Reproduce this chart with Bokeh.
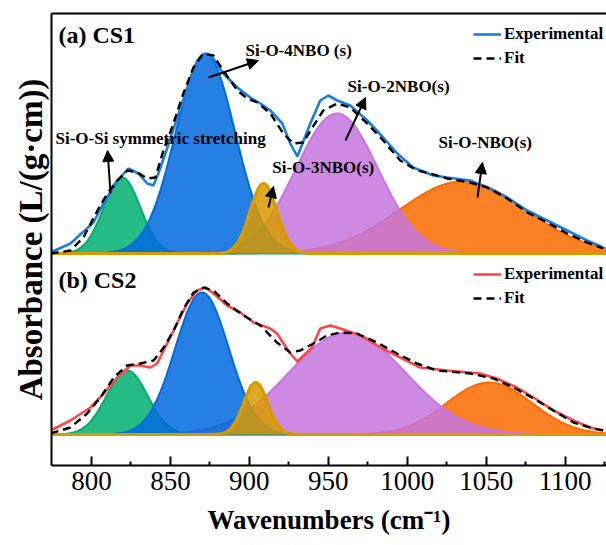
import numpy as np
from bokeh.plotting import figure
from bokeh.models import (Arrow, NormalHead, Label, Legend, LegendItem,
                          LinearAxis, FixedTicker)
from bokeh.embed import file_html
from bokeh.resources import INLINE

# ---------------- data ----------------
# CS1 measured spectrum
cs1_wn = [774.1, 786.7, 801.3, 807.6, 816.5, 823.4, 829.7, 835.4, 839.2, 842.4,
          848.1, 854.4, 860.8, 867.1, 872.2, 877.2, 883.5, 892.4, 900.6, 907.0,
          913.3, 920.9, 925.9, 930.4, 938.6, 944.9, 950.0, 955.7, 963.9, 974.7,
          984.8, 993.7, 1003.8, 1016.5, 1025.3, 1039.9, 1050.6, 1063.3, 1076.0,
          1088.6, 1101.3, 1113.9, 1124.1]
cs1_abs = [0.01, 0.10, 0.31, 0.50, 0.73, 0.85, 0.80, 0.70, 0.68, 0.80,
           1.06, 1.36, 1.66, 1.93, 1.99, 1.95, 1.80, 1.66, 1.56, 1.50,
           1.43, 1.30, 1.10, 0.97, 1.30, 1.53, 1.58, 1.53, 1.48, 1.33,
           1.16, 1.00, 0.86, 0.78, 0.76, 0.73, 0.66, 0.56, 0.43,
           0.33, 0.23, 0.13, 0.06]
# CS1 fitted envelope
cs1_fit_wn = [774.1, 786.7, 794.9, 803.8, 810.1, 816.5, 822.8, 829.1, 835.4, 840.5,
              845.6, 851.9, 858.2, 864.6, 870.9, 877.2, 883.5, 892.4, 898.7, 905.1,
              913.3, 921.5, 927.8, 934.2, 939.9, 946.8, 955.7, 963.9, 974.7, 984.8,
              995.6, 1006.3, 1014.6, 1025.3, 1039.9, 1050.6, 1063.3, 1076.0, 1088.6,
              1101.3, 1113.9, 1124.1]
cs1_fit_abs = [0.00, 0.03, 0.16, 0.43, 0.60, 0.73, 0.83, 0.81, 0.75, 0.76,
               1.03, 1.30, 1.60, 1.86, 2.00, 1.98, 1.83, 1.63, 1.55, 1.51,
               1.40, 1.20, 1.10, 1.11, 1.26, 1.43, 1.50, 1.46, 1.30, 1.13,
               0.93, 0.83, 0.80, 0.75, 0.71, 0.66, 0.55, 0.41, 0.31,
               0.20, 0.11, 0.05]

# CS2 measured spectrum
cs2_wn = [774.1, 786.7, 799.4, 807.8, 816.3, 824.7, 831.0, 837.3, 841.6, 847.9,
          854.2, 860.6, 866.9, 872.2, 877.4, 885.9, 894.3, 902.7, 913.3, 917.5,
          921.7, 925.9, 930.4, 939.7, 944.9, 951.3, 957.6, 970.3, 982.9, 995.6,
          1008.2, 1025.1, 1046.2, 1056.8, 1069.4, 1080.0, 1092.6, 1105.3, 1115.8,
          1124.2]
cs2_abs = [0.04, 0.14, 0.27, 0.41, 0.57, 0.69, 0.69, 0.67, 0.71, 0.91,
           1.11, 1.31, 1.44, 1.47, 1.41, 1.29, 1.22, 1.12, 1.06, 1.01,
           0.91, 0.81, 0.73, 0.87, 1.06, 1.09, 1.06, 0.99, 0.87, 0.77,
           0.67, 0.64, 0.61, 0.56, 0.47, 0.37, 0.24, 0.14, 0.07, 0.04]
# CS2 fitted envelope
cs2_fit_wn = [774.1, 786.7, 797.3, 805.7, 814.1, 822.6, 831.0, 839.4, 845.8, 852.1,
              858.4, 864.7, 871.1, 877.4, 885.9, 896.4, 907.0, 917.5, 925.9, 932.3,
              940.7, 949.2, 957.6, 968.2, 980.8, 993.5, 1006.1, 1018.8, 1039.9,
              1054.6, 1067.3, 1080.0, 1092.6, 1105.3, 1118.0, 1124.2]
cs2_fit_abs = [0.01, 0.07, 0.21, 0.37, 0.57, 0.69, 0.71, 0.74, 0.87, 1.04,
               1.26, 1.42, 1.47, 1.44, 1.31, 1.19, 1.09, 0.92, 0.82, 0.84,
               0.91, 0.99, 1.02, 1.01, 0.92, 0.81, 0.71, 0.64, 0.61,
               0.56, 0.47, 0.36, 0.24, 0.12, 0.06, 0.04]

# Gaussian components (centre / height / sigma), bands in order:
# Si-O-Si, Si-O-4NBO, Si-O-3NBO, Si-O-2NBO, Si-O-NBO
cs1_centers = [819.4, 872.2, 909.0, 955.5, 1035.0]
cs1_heights = [0.76, 2.00, 0.70, 1.40, 0.72]
cs1_sigmas = [11.6, 18.8, 8.5, 26.0, 40.0]
cs2_centers = [822.6, 870.0, 904.0, 962.0, 1052.0]
cs2_heights = [0.64, 1.42, 0.52, 1.02, 0.52]
cs2_sigmas = [13.0, 17.0, 7.6, 37.0, 27.0]

x_ticks = [800, 850, 900, 950, 1000, 1050, 1100]

# vertical offset of the upper spectrum
CS1_SHIFT = 1.81
CS2_SHIFT = 0.0

band_colors = ["#00AE6E", "#006ADF", "#D99A00", "#C676DE", "#FC6A00"]
band_edge_widths = [2.0, 2.0, 3.2, 2.0, 2.0]
draw_order = [4, 3, 0, 1, 2]

SERIF = "Liberation Serif"

p = figure(width=606, height=545, x_range=(774.7, 1126.2), y_range=(-0.31, 4.21),
           output_backend="svg", toolbar_location=None,
           min_border_left=51, min_border_right=0, min_border_top=13,
           min_border_bottom=80)
p.outline_line_color = None
p.grid.visible = False
p.background_fill_color = "white"
p.border_fill_color = "white"

grid = np.linspace(774.7, 1126.2, 500)


def draw_bands(centers, heights, sigmas, shift):
    for i in draw_order:
        g = heights[i] * np.exp(-0.5 * ((grid - centers[i]) / sigmas[i]) ** 2)
        p.varea(x=grid, y1=np.full_like(grid, shift), y2=shift + g,
                fill_color=band_colors[i], fill_alpha=0.85)
        p.line(grid, shift + g, line_color=band_colors[i], line_width=band_edge_widths[i])


draw_bands(cs1_centers, cs1_heights, cs1_sigmas, CS1_SHIFT)
draw_bands(cs2_centers, cs2_heights, cs2_sigmas, CS2_SHIFT)

exp1 = p.line(cs1_wn, [v + CS1_SHIFT for v in cs1_abs], line_color="#1A7DE0", line_width=2.6)
fit1 = p.line(cs1_fit_wn, [v + CS1_SHIFT for v in cs1_fit_abs], line_color="black",
              line_width=2.4, line_dash="8 5")
exp2 = p.line(cs2_wn, [v + CS2_SHIFT for v in cs2_abs], line_color="#FF4545", line_width=2.6)
fit2 = p.line(cs2_fit_wn, [v + CS2_SHIFT for v in cs2_fit_abs], line_color="black",
              line_width=2.4, line_dash="8 5")

# axes
xa = p.xaxis[0]
xa.ticker = FixedTicker(ticks=x_ticks, minor_ticks=[825, 875, 925, 975, 1025, 1075, 1125])
xa.major_tick_in = 9
xa.major_tick_out = 0
xa.minor_tick_in = 4
xa.minor_tick_out = 0
xa.axis_line_width = 2
xa.major_tick_line_width = 2
xa.minor_tick_line_width = 2
xa.major_label_text_font = SERIF
xa.major_label_text_font_size = "27px"
xa.major_label_text_color = "black"
xa.major_label_standoff = 6
xa.axis_label = "Wavenumbers (cm\u207b\u00b9)"
xa.axis_label_text_font = SERIF
xa.axis_label_text_font_style = "bold"
xa.axis_label_text_font_size = "27px"
xa.axis_label_text_color = "black"
xa.axis_label_standoff = 12

ya = p.yaxis[0]
ya.ticker = FixedTicker(ticks=[])
ya.major_label_text_font_size = "0px"
ya.major_tick_in = 0
ya.major_tick_out = 0
ya.minor_tick_in = 0
ya.minor_tick_out = 0
ya.axis_line_width = 2
ya.axis_label = "Absorbance (L/(g\u00b7cm))"
ya.axis_label_text_font = SERIF
ya.axis_label_text_font_style = "bold"
ya.axis_label_text_font_size = "33px"
ya.axis_label_text_color = "black"
ya.axis_label_standoff = 3

top = LinearAxis(ticker=FixedTicker(ticks=[]), major_label_text_font_size="0px",
                 major_tick_in=0, major_tick_out=0, minor_tick_in=0, minor_tick_out=0,
                 axis_line_width=2)
p.add_layout(top, "above")

# panel titles and band annotations
def label(x, y, text, size):
    p.add_layout(Label(x=x, y=y, text=text, text_font=SERIF, text_font_style="bold",
                       text_font_size=size, text_color="black", text_baseline="middle",
                       text_align="left"))

label(779.1, 4.00, "(a) CS1", "24px")
label(779.1, 1.55, "(b) CS2", "24px")
label(897.6, 3.84, "Si-O-4NBO (s)", "17px")
label(962.2, 3.48, "Si-O-2NBO(s)", "17px")
label(777.2, 2.965, "Si-O-Si symmetric stretching", "17px")
label(914.5, 2.67, "Si-O-3NBO(s)", "17px")
label(1019.8, 2.92, "Si-O-NBO(s)", "17px")

arrows = [((812.1, 2.41), (810.2, 2.84)),
          ((874.1, 3.57), (905.8, 3.74)),
          ((912.1, 2.27), (915.3, 2.48)),
          ((960.9, 2.94), (973.6, 3.37)),
          ((1044.5, 2.37), (1047.6, 2.72))]
for (x0, y0), (x1, y1) in arrows:
    p.add_layout(Arrow(x_start=x0, y_start=y0, x_end=x1, y_end=y1, line_width=2,
                       line_color="black",
                       end=NormalHead(size=11, fill_color="black", line_color="black")))

# legends
def legend(exp_r, fit_r, vy):
    lg = Legend(items=[LegendItem(label="Experimental", renderers=[exp_r]),
                       LegendItem(label="Fit", renderers=[fit_r])],
                location=(422, vy), orientation="vertical",
                padding=0, margin=0, spacing=4, glyph_width=28, glyph_height=20,
                label_height=20, label_standoff=3,
                label_text_font=SERIF, label_text_font_style="bold",
                label_text_font_size="17px", label_text_color="black",
                border_line_color=None, background_fill_alpha=0)
    p.add_layout(lg)

legend(exp1, fit1, 397)
legend(exp2, fit2, 157)

open("out.html", "w").write(file_html(p, INLINE))
